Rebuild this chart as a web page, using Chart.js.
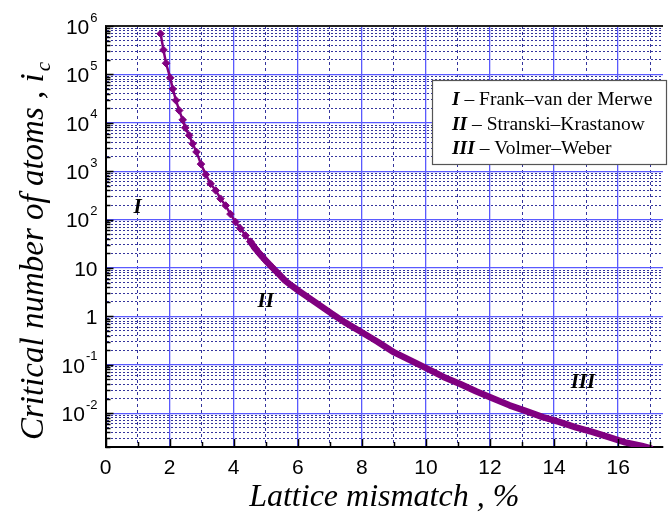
<!DOCTYPE html>
<html>
<head>
<meta charset="utf-8">
<script src="https://cdn.jsdelivr.net/npm/chart.js@4.4.1/dist/chart.umd.min.js"></script>
<style>
    html, body { margin: 0; padding: 0; background: #fff; }
    #wrap { width: 668px; height: 518px; }
</style>
</head>
<body>
<div id="wrap"><canvas id="icChart" width="668" height="518"></canvas></div>
<script>
// lattice mismatch, %
const mismatch = [
    1.72, 1.81, 1.89, 2.02, 2.10, 2.20, 2.30, 2.41, 2.49, 2.61,
    2.72, 2.84, 2.98, 3.13, 3.28, 3.44, 3.59, 3.75, 3.90, 4.06,
    4.21, 4.37, 4.52, 4.68, 4.83, 4.99, 5.19, 5.40, 5.60, 5.81,
    6.02, 6.53, 7.05, 7.46, 7.97, 8.49, 9.01, 9.52, 10.04, 10.55,
    11.07, 11.58, 12.10, 12.61, 13.13, 13.65, 14.16, 14.68, 15.19, 15.71,
    16.22, 16.74, 17.00
];
// critical number of atoms i_c
const criticalAtoms = [
    6.9e5, 3.2e5, 1.7e5, 8.5e4, 5.0e4, 2.9e4, 1.8e4, 1.15e4, 7.9e3, 5.5e3,
    3.7e3, 2.5e3, 1.4e3, 850, 550, 400, 270, 195, 130, 89,
    65, 47, 35, 25, 19, 14.5, 10.5, 7.6, 5.5, 4.3,
    3.4, 2.0, 1.15, 0.76, 0.48, 0.30, 0.18, 0.123, 0.083, 0.056,
    0.040, 0.028, 0.020, 0.0145, 0.011, 0.0083, 0.0066, 0.0051, 0.0041, 0.0032,
    0.0025, 0.0021, 0.0019
];

const xTickValues = [0, 1, 2, 3, 4, 5, 6, 7, 8, 9, 10, 11, 12, 13, 14, 15, 16, 17];
const yTickValues = [1e6, 1e5, 1e4, 1e3, 1e2, 10, 1, 0.1, 0.01];
const yTickBases = ["10", "10", "10", "10", "10", "10", "1", "10", "10"];
const yTickExps = ["6", "5", "4", "3", "2", "", "", "-1", "-2"];

const regionLabels = ["I", "II", "III"];
const regionX = [1.0, 5.0, 14.9];
const regionY = [180, 2.0, 0.042];

const legendNumerals = ["I", "II", "III"];
const legendNames = ["Frank–van der Merwe", "Stranski–Krastanow", "Volmer–Weber"];

const xTitle = "Lattice mismatch , %";
const yTitle = "Critical number of atoms , i";
const yTitleSub = "c";

const MAJOR_GRID = "#5a5aff";
const MINOR_GRID = "#34349c";
const CURVE = "#800080";

function isDecade(v) {
    const l = Math.log10(v);
    return Math.abs(l - Math.round(l)) < 1e-6;
}

function buildLogTicks(min, max) {
    const out = [];
    for (let k = -3; k <= 6; k++) {
        for (let m = 1; m <= 9; m++) {
            const v = m * Math.pow(10, k);
            if (v >= min * 0.999 && v <= max * 1.001) out.push({ value: v, major: m === 1 });
        }
    }
    return out;
}

// рамка, внутренние засечки, подписи оси Y, надписи областей, легенда
const decorPlugin = {
    id: "decor",
    afterDraw(chart) {
        const { ctx, chartArea: a, scales: { x, y } } = chart;
        ctx.save();

        ctx.strokeStyle = "#222";
        ctx.lineWidth = 2;
        ctx.beginPath();
        ctx.moveTo(a.left, a.top);
        ctx.lineTo(a.right, a.top);
        ctx.stroke();

        ctx.strokeStyle = "#000";
        ctx.lineWidth = 1.5;
        ctx.beginPath();
        y.ticks.forEach(t => {
            const py = Math.round(y.getPixelForValue(t.value)) + 0.5;
            const len = isDecade(t.value) ? 8 : 5;
            ctx.moveTo(a.left, py);
            ctx.lineTo(a.left + len, py);
        });
        x.ticks.forEach(t => {
            const px = Math.round(x.getPixelForValue(t.value)) + 0.5;
            const len = t.value % 2 === 0 ? 8 : 5;
            ctx.moveTo(px, a.bottom);
            ctx.lineTo(px, a.bottom - len);
        });
        ctx.stroke();

        // Y tick labels with superscripts
        ctx.fillStyle = "#000";
        ctx.textAlign = "right";
        ctx.textBaseline = "middle";
        const rightEdge = a.left - 8;
        yTickValues.forEach((v, i) => {
            const py = y.getPixelForValue(v);
            let ew = 0;
            if (yTickExps[i]) {
                ctx.font = '13px "Liberation Sans"';
                ew = ctx.measureText(yTickExps[i]).width + 1;
                ctx.fillText(yTickExps[i], rightEdge, py - 8);
            }
            ctx.font = '21px "Liberation Sans"';
            ctx.fillText(yTickBases[i], rightEdge - ew, py + 2);
        });

        // Y title with subscript
        ctx.save();
        ctx.font = 'italic 33px "Liberation Serif"';
        const mainW = ctx.measureText(yTitle).width;
        ctx.font = 'italic 21px "Liberation Serif"';
        const subW = ctx.measureText(yTitleSub).width;
        const total = mainW + 2 + subW;
        ctx.translate(43, 251);
        ctx.rotate(-Math.PI / 2);
        ctx.textAlign = "left";
        ctx.textBaseline = "alphabetic";
        ctx.font = 'italic 33px "Liberation Serif"';
        ctx.fillText(yTitle, -total / 2, 0);
        ctx.font = 'italic 21px "Liberation Serif"';
        ctx.fillText(yTitleSub, -total / 2 + mainW + 2, 7);
        ctx.restore();

        // region labels
        ctx.textAlign = "center";
        ctx.textBaseline = "middle";
        ctx.font = 'bold italic 21px "Liberation Serif"';
        regionLabels.forEach((lab, i) => {
            ctx.fillText(lab, x.getPixelForValue(regionX[i]), y.getPixelForValue(regionY[i]));
        });

        // legend box
        ctx.fillStyle = "#fff";
        ctx.fillRect(432, 80, 236, 85);
        ctx.strokeStyle = "#555";
        ctx.lineWidth = 1.2;
        ctx.strokeRect(432.5, 80.5, 234, 84);
        ctx.fillStyle = "#000";
        ctx.textAlign = "left";
        legendNumerals.forEach((num, i) => {
            const ty = 100 + i * 24.5;
            ctx.font = 'bold italic 19.5px "Liberation Serif"';
            ctx.fillText(num, 452, ty);
            const nw = ctx.measureText(num).width;
            ctx.font = '19.5px "Liberation Serif"';
            ctx.fillText(" – " + legendNames[i], 452 + nw, ty);
        });

        ctx.restore();
    }
};

new Chart(document.getElementById("icChart"), {
    type: "line",
    data: {
        datasets: [
            {
                data: mismatch.map((m, i) => ({ x: m, y: criticalAtoms[i] })),
                borderColor: CURVE,
                backgroundColor: CURVE,
                borderWidth: 2.5,
                borderJoinStyle: "round",
                borderCapStyle: "round",
                pointStyle: "rectRot",
                pointRadius: ctx => (ctx.raw && ctx.raw.x < 5.3 ? 3.8 : 0),
                pointBorderWidth: 1,
                pointBorderColor: CURVE,
                tension: 0,
                segment: {
                    borderWidth: ctx => (ctx.p0.parsed.x < 4.4 ? 2.5 : 6.5)
                }
            }
        ]
    },
    options: {
        responsive: false,
        animation: false,
        layout: { padding: { top: 26, right: 0, bottom: 0, left: 0 } },
        plugins: {
            legend: { display: false },
            tooltip: { enabled: false }
        },
        scales: {
            x: {
                type: "linear",
                min: 0,
                max: 17.4,
                afterBuildTicks: scale => {
                    scale.ticks = xTickValues.map(v => ({ value: v }));
                },
                afterFit: scale => { scale.height = 71; },
                ticks: {
                    autoSkip: false,
                    maxRotation: 0,
                    padding: 9,
                    color: "#000",
                    font: { family: "Liberation Sans", size: 21 },
                    callback: v => (v % 2 === 0 ? String(v) : "")
                },
                grid: {
                    drawTicks: false,
                    color: c => (c.tick && c.tick.value % 2 === 0 ? MAJOR_GRID : MINOR_GRID),
                    lineWidth: c => (c.tick && c.tick.value % 2 === 0 ? 1.3 : 1)
                },
                border: {
                    display: true,
                    color: "#000",
                    width: 2,
                    dash: c => (c.tick && c.tick.value % 2 !== 0 ? [3, 3] : [])
                },
                title: {
                    display: true,
                    text: xTitle,
                    color: "#000",
                    font: { family: "Liberation Serif", size: 32, style: "italic" },
                    padding: { top: 0, bottom: 1 }
                }
            },
            y: {
                type: "logarithmic",
                min: 0.002,
                max: 1e6,
                afterBuildTicks: scale => {
                    scale.ticks = buildLogTicks(0.002, 1e6);
                },
                afterFit: scale => { scale.width = 105.5; },
                ticks: { display: false },
                grid: {
                    drawTicks: false,
                    color: c => (c.tick && isDecade(c.tick.value) ? MAJOR_GRID : MINOR_GRID),
                    lineWidth: c => (c.tick && isDecade(c.tick.value) ? 1.3 : 1)
                },
                border: {
                    display: true,
                    color: "#000",
                    width: 2,
                    dash: c => (c.tick && !isDecade(c.tick.value) ? [2, 2] : [])
                }
            }
        }
    },
    plugins: [decorPlugin]
});
</script>
</body>
</html>
